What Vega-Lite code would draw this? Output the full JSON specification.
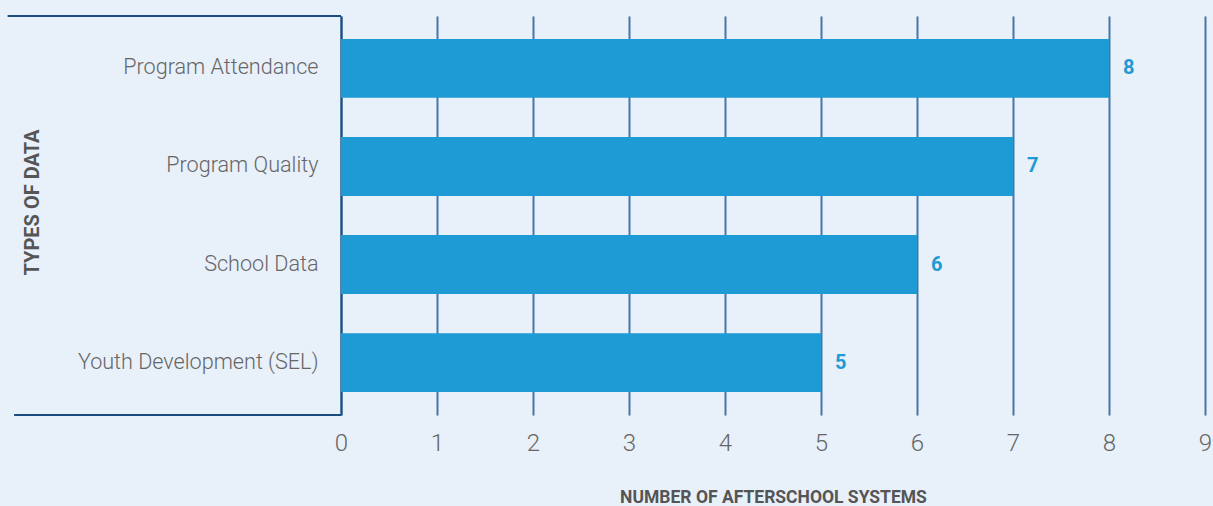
{
  "$schema": "https://vega.github.io/schema/vega-lite/v6.json",
  "autosize": "none",
  "width": 864,
  "height": 399,
  "padding": {"left": 341, "top": 16, "right": 8, "bottom": 91},
  "background": "#e8f0fa",
  "config": {
    "view": {"stroke": null},
    "font": "Roboto"
  },
  "data": {
    "values": [
      {"type": "Program Attendance", "count": 8},
      {"type": "Program Quality", "count": 7},
      {"type": "School Data", "count": 6},
      {"type": "Youth Development (SEL)", "count": 5}
    ]
  },
  "layer": [
    {
      "mark": {"type": "bar", "color": "#1e9ad4"},
      "encoding": {
        "y": {
          "field": "type",
          "type": "nominal",
          "sort": null,
          "scale": {"paddingInner": 0.4, "paddingOuter": 0.235},
          "axis": {
            "title": "TYPES OF DATA",
            "domain": true,
            "domainColor": "#1b4c7e",
            "domainWidth": 2,
            "ticks": false,
            "labelFont": "Roboto",
            "labelFontWeight": 300,
            "labelFontSize": 21.6,
            "labelColor": "#666666",
            "labelPadding": 23,
            "labelLimit": 0,
            "titleFont": "Roboto",
            "titleFontSize": 20,
            "titleFontWeight": "bold",
            "titleColor": "#555555",
            "titleAngle": 270,
            "titleAlign": "center",
            "titleBaseline": "middle",
            "titleX": -309,
            "titleY": 186,
            "titleLetterSpacing": 3
          }
        },
        "x": {
          "field": "count",
          "type": "quantitative",
          "scale": {"domain": [0, 9]},
          "axis": {
            "title": "NUMBER OF AFTERSCHOOL SYSTEMS",
            "values": [0, 1, 2, 3, 4, 5, 6, 7, 8, 9],
            "format": "d",
            "domain": false,
            "ticks": false,
            "grid": true,
            "gridColor": "#4577a8",
            "gridWidth": 2,
            "labelFlush": false,
            "labelFont": "Roboto",
            "labelFontWeight": 300,
            "labelFontSize": 24,
            "labelColor": "#666666",
            "labelPadding": 16,
            "titleFont": "Roboto",
            "titleFontSize": 17.5,
            "titleFontWeight": "bold",
            "titleColor": "#555555",
            "titleBaseline": "alphabetic",
            "titleAlign": "center",
            "titleX": 432,
            "titleY": 87,
            "titleLetterSpacing": 0.5
          }
        }
      }
    },
    {
      "mark": {"type": "text", "align": "left", "baseline": "middle", "dx": 14, "fontSize": 20, "fontWeight": "bold", "color": "#1e9ad4", "font": "Roboto"},
      "encoding": {
        "y": {"field": "type", "type": "nominal", "sort": null},
        "x": {"field": "count", "type": "quantitative"},
        "text": {"field": "count", "type": "quantitative"}
      }
    },
    {
      "mark": {"type": "rule", "color": "#1b4c7e", "strokeWidth": 2},
      "encoding": {
        "x": {"datum": -3.47},
        "x2": {"datum": 0},
        "y": {"value": 0}
      }
    },
    {
      "mark": {"type": "rule", "color": "#1b4c7e", "strokeWidth": 2},
      "encoding": {
        "x": {"datum": -3.4},
        "x2": {"datum": 0},
        "y": {"value": "height"}
      }
    }
  ]
}
